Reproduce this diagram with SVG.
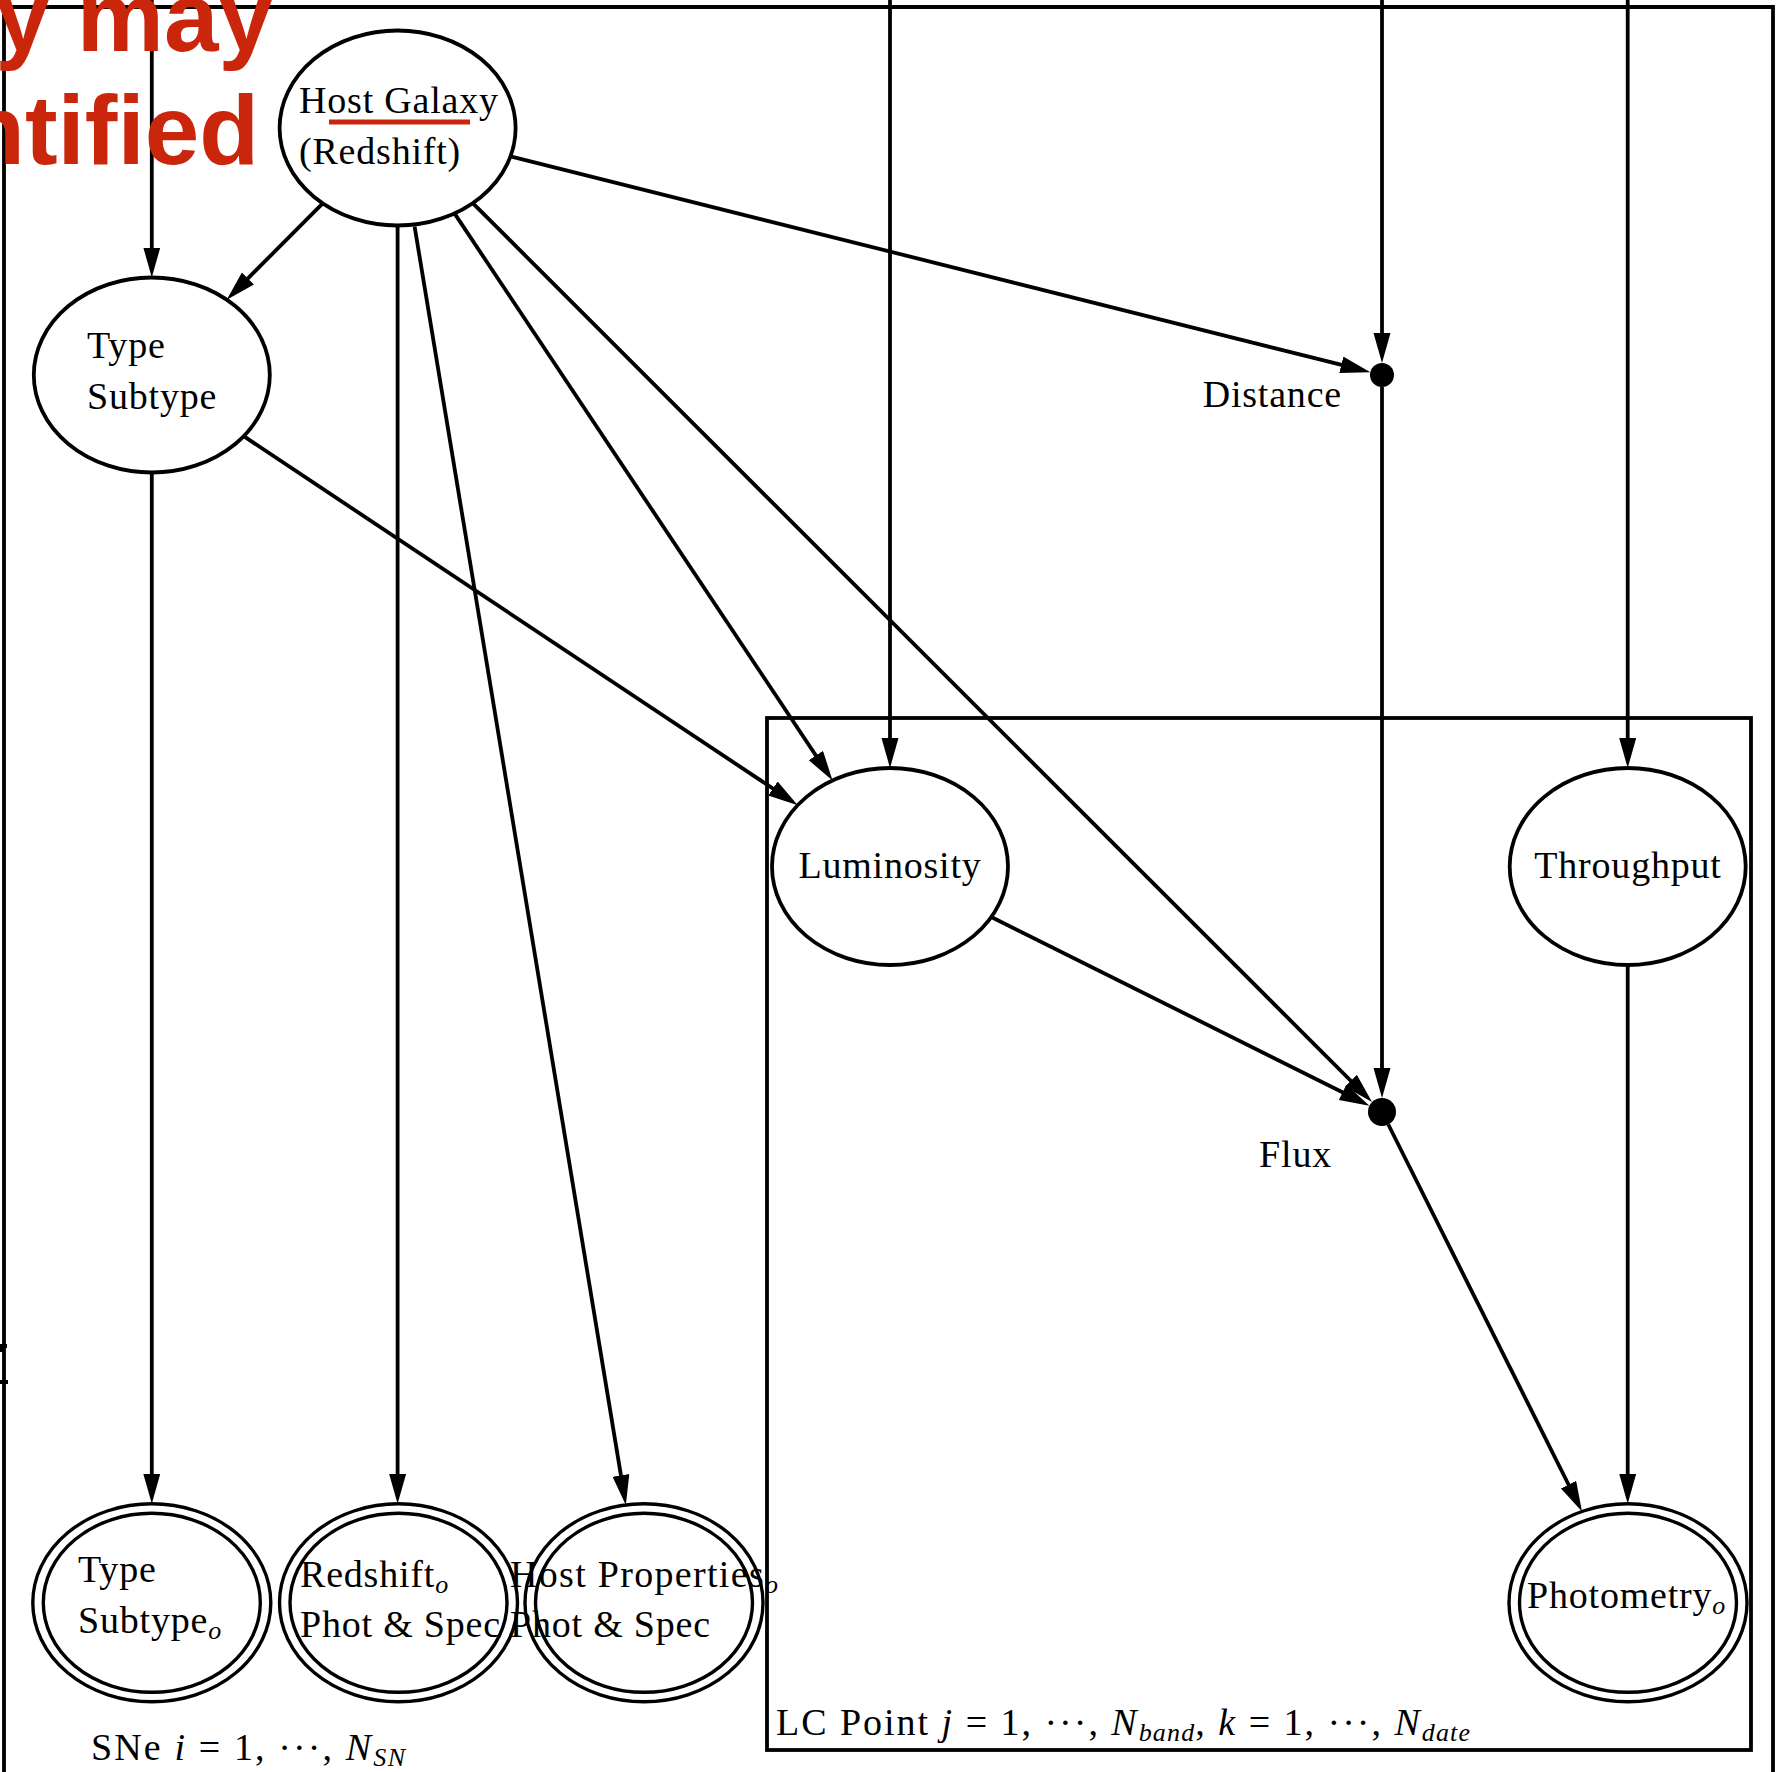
<svg xmlns="http://www.w3.org/2000/svg" width="1776" height="1772" viewBox="0 0 1776 1772">
<style>
.box{fill:none;stroke:#000;stroke-width:3.8}
.edge{fill:none;stroke:#000;stroke-width:3.8}
.node{fill:none;stroke:#000;stroke-width:3.8}
.obs{fill:none;stroke:#000;stroke-width:3.4}
.dot{fill:#000}
.t{font-family:"Liberation Serif","Times New Roman",serif;font-size:38px;letter-spacing:0.8px;fill:#000}
.m{font-style:italic}
.sub{font-family:"Liberation Serif","Times New Roman",serif;font-style:italic;font-size:26px;letter-spacing:0}
.red{font-family:"Liberation Sans",Arial,sans-serif;font-weight:bold;font-size:98px;fill:#c9260b}
</style>
<defs>
<marker id="arr" markerUnits="userSpaceOnUse" markerWidth="32" markerHeight="18" refX="20" refY="8.5" orient="auto">
<path d="M0,0 L30,8.5 L0,17 z" fill="#000"/>
</marker>
</defs>
<rect width="1776" height="1772" fill="#fff"/>
<g id="plates">
<path class="box" d="M4,1780 V7 H1773 V1780"/>
<rect class="box" x="767" y="718" width="984" height="1032"/>
<path class="box" d="M0,1346 H7 M1,1346 V1352 M0,1382 H8" stroke-width="3"/>
</g>
<g id="connectors">
<line class="edge" x1="151.8" y1="-5" x2="151.8" y2="267.5" marker-end="url(#arr)"/>
<line class="edge" x1="890" y1="-5" x2="890" y2="758" marker-end="url(#arr)"/>
<line class="edge" x1="1382" y1="-5" x2="1382" y2="353" marker-end="url(#arr)"/>
<line class="edge" x1="1627.7" y1="-5" x2="1627.7" y2="758" marker-end="url(#arr)"/>
<line class="edge" x1="322.7" y1="203.3" x2="233.8" y2="292.6" marker-end="url(#arr)"/>
<line class="edge" x1="397.6" y1="225.5" x2="397.6" y2="1493.8" marker-end="url(#arr)"/>
<line class="edge" x1="414.6" y1="226.5" x2="624.2" y2="1495.1" marker-end="url(#arr)"/>
<line class="edge" x1="454.5" y1="213.4" x2="827.0" y2="772.2" marker-end="url(#arr)"/>
<line class="edge" x1="472.8" y1="203.1" x2="1365.0" y2="1095.0" marker-end="url(#arr)"/>
<line class="edge" x1="510.5" y1="156.3" x2="1360.7" y2="369.7" marker-end="url(#arr)"/>
<line class="edge" x1="243.7" y1="436.2" x2="789.5" y2="799.6" marker-end="url(#arr)"/>
<line class="edge" x1="151.8" y1="472.5" x2="151.8" y2="1493.8" marker-end="url(#arr)"/>
<line class="edge" x1="1382" y1="387" x2="1382" y2="1088" marker-end="url(#arr)"/>
<line class="edge" x1="991.3" y1="917.0" x2="1360.5" y2="1101.2" marker-end="url(#arr)"/>
<line class="edge" x1="1627.7" y1="965" x2="1627.7" y2="1493.8" marker-end="url(#arr)"/>
<line class="edge" x1="1388.3" y1="1124.5" x2="1577.5" y2="1502.5" marker-end="url(#arr)"/>
</g>
<g id="host-galaxy">
<ellipse class="node" cx="397.6" cy="128" rx="118" ry="97.5"/>
<text class="t" x="299" y="113">Host Galaxy</text>
<text class="t" x="299" y="164">(Redshift)</text>
</g>
<g id="type-subtype">
<ellipse class="node" cx="151.8" cy="375" rx="118" ry="97.5"/>
<text class="t" x="87" y="358">Type</text>
<text class="t" x="87" y="409">Subtype</text>
</g>
<g id="distance">
<circle class="dot" cx="1382" cy="375" r="12"/>
<text class="t" x="1342" y="407" text-anchor="end">Distance</text>
</g>
<g id="luminosity">
<ellipse class="node" cx="890" cy="866.5" rx="118" ry="98.5"/>
<text class="t" x="890" y="878" text-anchor="middle">Luminosity</text>
</g>
<g id="throughput">
<ellipse class="node" cx="1627.7" cy="866.5" rx="118" ry="98.5"/>
<text class="t" x="1628" y="878" text-anchor="middle">Throughput</text>
</g>
<g id="flux">
<circle class="dot" cx="1382" cy="1112" r="14"/>
<text class="t" x="1332" y="1167" text-anchor="end">Flux</text>
</g>
<g id="photometry-o">
<ellipse class="obs" cx="1628" cy="1602.8" rx="119" ry="99"/>
<ellipse class="obs" cx="1628" cy="1602.8" rx="108.5" ry="89.5"/>
<text class="t" x="1527" y="1608">Photometry<tspan class="sub" dy="6">o</tspan></text>
</g>
<g id="type-subtype-o">
<ellipse class="obs" cx="151.8" cy="1602.8" rx="119" ry="99"/>
<ellipse class="obs" cx="151.8" cy="1602.8" rx="108.5" ry="89.5"/>
<text class="t" x="78" y="1582">Type</text>
<text class="t" x="78" y="1633">Subtype<tspan class="sub" dy="6">o</tspan></text>
</g>
<g id="redshift-o">
<ellipse class="obs" cx="398.5" cy="1602.8" rx="119" ry="99"/>
<ellipse class="obs" cx="398.5" cy="1602.8" rx="108.5" ry="89.5"/>
<text class="t" x="300" y="1587">Redshift<tspan class="sub" dy="6">o</tspan></text>
<text class="t" x="300" y="1637">Phot &amp; Spec</text>
</g>
<g id="host-properties-o">
<ellipse class="obs" cx="644" cy="1602.8" rx="119" ry="99"/>
<ellipse class="obs" cx="644" cy="1602.8" rx="108.5" ry="89.5"/>
<text class="t" x="510" y="1587" textLength="268" lengthAdjust="spacing">Host Properties<tspan class="sub" dy="6">o</tspan></text>
<text class="t" x="510" y="1637">Phot &amp; Spec</text>
</g>
<g id="plate-labels">
<text class="t" x="91" y="1760" textLength="314" lengthAdjust="spacing">SNe <tspan class="m">i</tspan> = 1, ···, <tspan class="m">N</tspan><tspan class="sub" dy="6">SN</tspan></text>
<text class="t" x="776" y="1735" textLength="694" lengthAdjust="spacing">LC Point <tspan class="m">j</tspan> = 1, ···, <tspan class="m">N</tspan><tspan class="sub" dy="6">band</tspan><tspan dy="-6">, </tspan><tspan class="m">k</tspan> = 1, ···, <tspan class="m">N</tspan><tspan class="sub" dy="6">date</tspan></text>
</g>
<g id="annotation">
<text class="red" x="273" y="51" text-anchor="end">y may</text>
<text class="red" x="259" y="164" text-anchor="end">ntified</text>
<line x1="329" y1="122" x2="470" y2="122" stroke="#c9260b" stroke-width="5"/>
</g>
</svg>
